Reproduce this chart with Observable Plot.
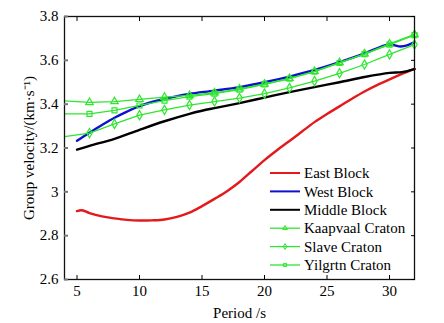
<!DOCTYPE html>
<html><head><meta charset="utf-8">
<script src="https://cdn.jsdelivr.net/npm/d3@7"></script>
<script src="https://cdn.jsdelivr.net/npm/@observablehq/plot@0.6"></script>
<style>
body{margin:0;background:#fff}
#chart{position:relative;width:444px;height:323px;background:#fff}
</style>
</head><body><div id="chart"></div>
<script>
// ---- data ----
const cratonPeriod = [4, 6, 8, 10, 12, 14, 16, 18, 20, 22, 24, 26, 28, 30, 32];
const kaapvaalVel  = [3.415, 3.408, 3.412, 3.422, 3.432, 3.440, 3.452, 3.470, 3.492, 3.518, 3.550, 3.590, 3.630, 3.675, 3.718];
const slaveVel     = [3.252, 3.268, 3.310, 3.350, 3.374, 3.396, 3.412, 3.428, 3.448, 3.474, 3.505, 3.541, 3.581, 3.627, 3.672];
const yilgrtnVel   = [3.356, 3.356, 3.372, 3.394, 3.416, 3.434, 3.448, 3.466, 3.490, 3.516, 3.548, 3.588, 3.628, 3.672, 3.715];

const eastPeriod = [5, 5.4, 6, 7, 8, 9, 10, 11, 12, 13, 14, 15, 16, 17, 18, 19, 20, 21, 22, 23, 24, 25, 26, 27, 28, 29, 30, 31, 32];
const eastVel    = [2.912, 2.916, 2.903, 2.888, 2.879, 2.872, 2.869, 2.870, 2.874, 2.886, 2.905, 2.935, 2.968, 3.003, 3.045, 3.095, 3.145, 3.190, 3.232, 3.275, 3.318, 3.355, 3.390, 3.425, 3.458, 3.487, 3.513, 3.538, 3.561];

const westPeriod = [5, 6, 7, 8, 9, 10, 11, 12, 13, 14, 16, 18, 20, 22, 24, 26, 28, 29, 30, 30.9, 31.4, 32];
const westVel    = [3.233, 3.270, 3.305, 3.338, 3.366, 3.391, 3.410, 3.424, 3.437, 3.447, 3.462, 3.478, 3.500, 3.526, 3.556, 3.592, 3.632, 3.655, 3.672, 3.663, 3.668, 3.683];

const middlePeriod = [5, 6, 8, 10, 12, 14, 15, 16, 18, 20, 22, 24, 26, 28, 30, 31, 32];
const middleVel    = [3.193, 3.210, 3.242, 3.283, 3.322, 3.356, 3.370, 3.382, 3.405, 3.430, 3.455, 3.478, 3.500, 3.524, 3.543, 3.546, 3.560];

const xTicks = [5, 10, 15, 20, 25, 30];
const yTicks = [2.6, 2.8, 3.0, 3.2, 3.4, 3.6, 3.8];

const seriesNames = ["East Block", "West Block", "Middle Block", "Kaapvaal Craton", "Slave Craton", "Yilgrtn Craton"];
const seriesColors = ["#e3191c", "#1010d0", "#000000", "#2ee62e", "#2ee62e", "#2ee62e"];
const seriesSymbols = [null, null, null, "triangle", "diamond", "square"];

// ---- build tables ----
const zip = (xs, ys) => xs.map((p, i) => ({p, v: ys[i]}));
const east = zip(eastPeriod, eastVel);
const west = zip(westPeriod, westVel);
const middle = zip(middlePeriod, middleVel);
const cratons = [kaapvaalVel, slaveVel, yilgrtnVel].map(vs => zip(cratonPeriod, vs));

const FONT = "'Liberation Serif', 'Times New Roman', serif";
const green = seriesColors[3];

const marks = [
  Plot.line(east,   {x: "p", y: "v", stroke: seriesColors[0], strokeWidth: 2.4, curve: "catmull-rom"}),
  Plot.line(west,   {x: "p", y: "v", stroke: seriesColors[1], strokeWidth: 2.4, curve: "catmull-rom"}),
  Plot.line(middle, {x: "p", y: "v", stroke: seriesColors[2], strokeWidth: 2.4, curve: "catmull-rom"}),
];
cratons.forEach((c, i) => {
  marks.push(Plot.line(c, {x: "p", y: "v", stroke: green, strokeWidth: 1.3}));
  marks.push(Plot.dot(c, {x: "p", y: "v", filter: d => d.p > cratonPeriod[0], symbol: () => seriesSymbols[3 + i], r: 2.8, stroke: green, strokeWidth: 1.2, fill: "none"}));
});
marks.push(
  Plot.frame({stroke: "#111", strokeWidth: 1.3}),
  Plot.axisX(xTicks, {anchor: "bottom", tickSize: -4, tickPadding: 10, label: "Period /s", labelAnchor: "center", labelOffset: 38, labelArrow: "none"}),
  Plot.axisX(xTicks, {anchor: "top", tickSize: -4, tickFormat: () => "", label: null}),
  Plot.axisY(yTicks, {anchor: "left", tickSize: -4, tickPadding: 10, line: true, stroke: "#777", strokeWidth: 2, tickFormat: d => String(d), label: "Group velocity/(km·s⁻¹)", labelAnchor: "center", labelOffset: 41, labelArrow: "none"}),
  Plot.axisY(yTicks, {anchor: "right", tickSize: -4, tickFormat: () => "", label: null})
);

const plot = Plot.plot({
  width: 444, height: 323,
  marginLeft: 64, marginRight: 30, marginTop: 16, marginBottom: 44,
  style: {fontFamily: FONT, fontSize: "15px", background: "#fff", color: "#000", overflow: "visible"},
  x: {domain: [4, 32]},
  y: {domain: [2.6, 3.8]},
  marks
});
document.getElementById("chart").appendChild(plot);

// ---- legend (inside plot, lower right) ----
const svg = d3.select(plot);
const lg = svg.append("g").attr("font-family", FONT).attr("font-size", 15).attr("text-anchor", "start");
seriesNames.forEach((name, i) => {
  const y = 173 + i * 18.4;
  const row = lg.append("g").attr("transform", `translate(0,${y})`);
  const thick = i < 3;
  row.append("line").attr("x1", 270).attr("x2", 300).attr("y1", 0).attr("y2", 0)
    .attr("stroke", seriesColors[i]).attr("stroke-width", thick ? 2 : 1.3);
  if (seriesSymbols[i]) {
    const map = {triangle: d3.symbolTriangle, diamond: d3.symbolDiamond, square: d3.symbolSquare};
    row.append("path").attr("transform", "translate(285,0)")
      .attr("d", d3.symbol(map[seriesSymbols[i]], 10)())
      .attr("fill", "none").attr("stroke", seriesColors[i]).attr("stroke-width", 1);
  }
  row.append("text").attr("x", 304).attr("y", 0).attr("dy", "0.35em").attr("text-anchor", "start").attr("fill", "#000").text(name);
});
</script>
</body></html>
